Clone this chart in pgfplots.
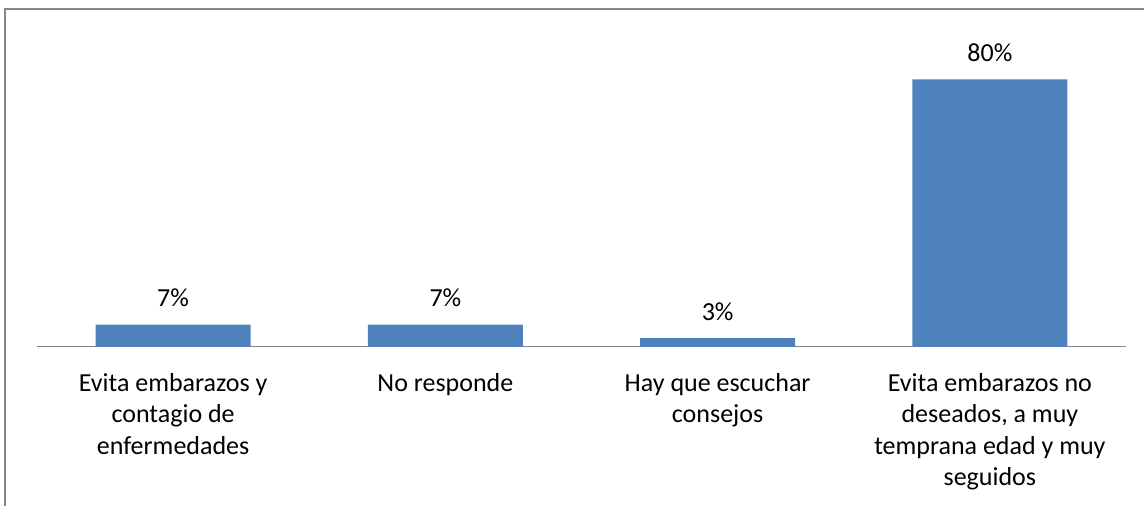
\documentclass[border=0pt]{standalone}
\usepackage{fontspec}
\setmainfont{Carlito}
\usepackage{pgfplots}
\pgfplotsset{compat=1.18}
\definecolor{barblue}{HTML}{4F81BD}
\definecolor{framegray}{HTML}{868686}
\begin{document}
\begin{tikzpicture}
\useasboundingbox (0,0) rectangle (858pt,379.5pt);
\draw[framegray, line width=1.5pt] (3.75pt,-5pt) -- (3.75pt,373.1pt) -- (865pt,373.1pt);
\begin{axis}[
  at={(27.75pt,119.25pt)}, anchor=south west,
  scale only axis, width=816.75pt, height=250.95pt,
  xmin=-0.5, xmax=3.5, ymin=0, ymax=100,
  axis x line*=bottom, axis y line=none,
  x axis line style={framegray, line width=0.75pt, -},
  ybar, bar width=116.25pt,
  /pgf/number format/assume math mode=true,
  xtick=data, major tick length=0pt,
  xticklabels={{\strut Evita embarazos y\\contagio de\\enfermedades},{\strut No responde},{\strut Hay que escuchar\\consejos},{\strut Evita embarazos no\\deseados, a muy\\temprana edad y muy\\seguidos}},
  xticklabel style={anchor=north, yshift=-16.5pt, inner sep=0pt, align=center, font=\fontsize{19.5}{23.6}\selectfont},
  nodes near coords={\pgfmathprintnumber[fixed,precision=0,assume math mode=true]{\pgfplotspointmeta}\%},
  nodes near coords style={anchor=base, inner sep=0pt, yshift=13.5pt, font=\fontsize{19.5}{23.6}\selectfont, text=black},
  clip=false,
]
\addplot[fill=barblue, draw=none] coordinates {(0,6.67) (1,6.67) (2,2.67) (3,80)};
\end{axis}
\end{tikzpicture}
\end{document}
